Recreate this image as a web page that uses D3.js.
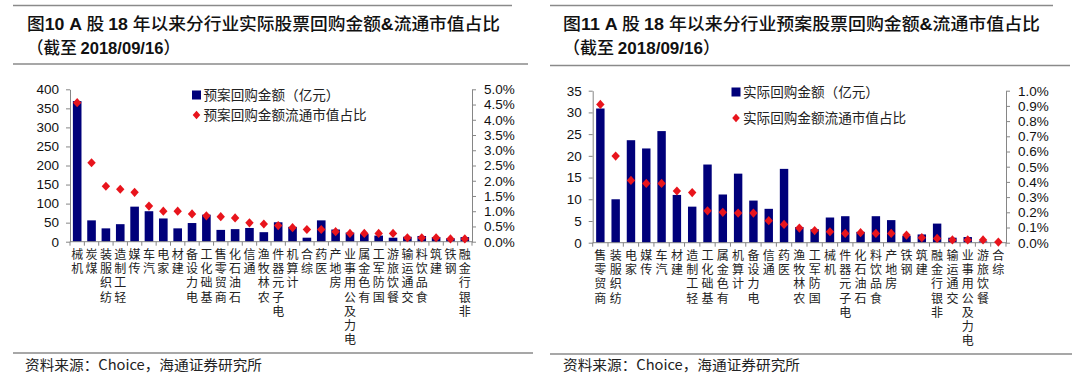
<!DOCTYPE html>
<html><head><meta charset="utf-8">
<script src="https://cdn.jsdelivr.net/npm/d3@7"></script>
<style>
html,body{margin:0;padding:0;background:#fff;}
svg{display:block;}
.vlab{writing-mode:vertical-rl;text-orientation:upright;}
</style></head>
<body>
<svg id="c" width="1080" height="390"></svg>
<script>
// ---------- DATA ----------
const leftCategories = ["机械","煤炭","纺织服装","轻工制造","传媒","汽车","家电","建材","电力设备","基础化工","商贸零售","石油石化","通信","农林牧渔","电子元器件","计算机","综合","医药","房地产","电力及公用事业","有色金属","国防军工","餐饮旅游","交通运输","食品饮料","建筑","钢铁","非银行金融"];
const leftAmount = [369,56,35,46,92,80,61,35,49,71,31,33,36,25,51,39,10.5,56,32,24,20,16,10.5,13,15,12,9,12];
const leftRatio = [4.56,2.59,1.82,1.72,1.62,1.17,1.00,1.00,0.91,0.85,0.82,0.78,0.62,0.58,0.53,0.46,0.40,0.40,0.33,0.27,0.27,0.27,0.27,0.13,0.13,0.13,0.09,0.09];
const leftAmountTicks = [0,50,100,150,200,250,300,350,400];
const leftRatioTicks = [0,0.5,1.0,1.5,2.0,2.5,3.0,3.5,4.0,4.5,5.0];

const rightCategories = ["商贸零售","纺织服装","家电","传媒","汽车","建材","轻工制造","基础化工","有色金属","计算机","电力设备","通信","医药","农林牧渔","国防军工","机械","电子元器件","石油石化","食品饮料","房地产","钢铁","建筑","非银行金融","交通运输","电力及公用事业","餐饮旅游","综合"];
const rightAmount = [30.9,10.0,23.6,21.7,25.7,11.0,8.3,18.0,11.1,15.9,9.7,7.8,17.0,3.6,3.1,5.8,6.1,2.5,6.1,5.2,1.6,1.9,4.4,1.15,1.3,0.3,0.1];
const rightRatio = [0.91,0.57,0.41,0.39,0.39,0.34,0.33,0.21,0.20,0.195,0.195,0.145,0.12,0.096,0.08,0.072,0.061,0.066,0.061,0.061,0.05,0.033,0.028,0.018,0.018,0.018,0.004];
const rightAmountTicks = [0,5,10,15,20,25,30,35];
const rightRatioTicks = [0,0.1,0.2,0.3,0.4,0.5,0.6,0.7,0.8,0.9,1.0];

const leftTitle1 = [["图",0],["10 A ",1],["股 ",0],["18 ",1],["年以来分行业实际股票回购金额",0],["&",1],["流通市值占比",0]];
const rightTitle1 = [["图",0],["11 A ",1],["股 ",0],["18 ",1],["年以来分行业预案股票回购金额",0],["&",1],["流通市值占比",0]];
const title2 = [["（截至 ",0],["2018/09/16",1],["）",0]];
const leftLegend = ["预案回购金额（亿元）","预案回购金额流通市值占比"];
const rightLegend = ["实际回购金额（亿元）","实际回购金额流通市值占比"];
const sourceText = "资料来源：Choice，海通证券研究所";

// ---------- STYLE ----------
const BAR = "#00007A", RED = "#E8141C", AXIS = "#868686", RULE = "#8a8a8a";
const CJK = "'Noto Sans CJK SC','Noto Sans',sans-serif";
const LAT = "'Liberation Sans',Arial,sans-serif";

const svg = d3.select("#c");

function panel(o){
  const g = svg.append("g");
  // rules
  g.append("line").attr("x1",o.r0).attr("x2",o.rTop).attr("y1",5.5).attr("y2",5.5).attr("stroke",RULE).attr("stroke-width",1.5);
  g.append("line").attr("x1",o.r0).attr("x2",o.rMid).attr("y1",o.midY).attr("y2",o.midY).attr("stroke",RULE).attr("stroke-width",1.5);
  g.append("line").attr("x1",o.r0).attr("x2",o.rBot).attr("y1",o.botY).attr("y2",o.botY).attr("stroke",RULE).attr("stroke-width",1.5);

  // titles
  const t1 = g.append("text").attr("x",o.tx).attr("y",29.5).attr("font-size",17).attr("fill","#111")
     .attr("textLength",o.t1len).attr("lengthAdjust","spacingAndGlyphs");
  o.title1.forEach(([s,b])=>t1.append("tspan").text(s).attr("font-family",b?LAT:CJK).attr("font-weight",b?700:500));
  const t2 = g.append("text").attr("x",o.tx).attr("y",53.5).attr("font-size",17).attr("fill","#111")
     .attr("textLength",o.t2len).attr("lengthAdjust","spacingAndGlyphs");
  title2.forEach(([s,b])=>t2.append("tspan").text(s).attr("font-family",b?LAT:CJK).attr("font-weight",b?700:500));

  // source
  g.append("text").attr("x",o.sx).attr("y",370).attr("font-size",14).attr("font-family",CJK).attr("fill","#222")
    .attr("textLength",237).attr("lengthAdjust","spacingAndGlyphs").text(sourceText);

  // scales
  const x = d3.scaleBand().domain(o.cats).range([o.x0,o.x1]).padding(0);
  const yA = d3.scaleLinear().domain([0,d3.max(o.aTicks)]).range([o.y0,o.yTop]);
  const yR = d3.scaleLinear().domain([0,d3.max(o.rTicks)]).range([o.y0,o.yTop]);
  const bw = x.bandwidth()*o.barFrac;

  // bars
  g.append("g").selectAll("rect").data(o.cats).join("rect")
    .attr("x",d=>x(d)+(x.bandwidth()-bw)/2).attr("width",bw)
    .attr("y",(d,i)=>yA(o.amount[i])).attr("height",(d,i)=>yA(0)-yA(o.amount[i]))
    .attr("fill",BAR);

  // axes
  const axL = g.append("g").attr("transform",`translate(${o.x0},0)`)
    .call(d3.axisLeft(yA).tickValues(o.aTicks).tickSize(4).tickPadding(7).tickSizeOuter(0));
  const axR = g.append("g").attr("transform",`translate(${o.x1},0)`)
    .call(d3.axisRight(yR).tickValues(o.rTicks).tickSize(4).tickPadding(8).tickSizeOuter(0).tickFormat(d=>d.toFixed(1)+"%"));
  [axL,axR].forEach(a=>{
    a.select(".domain").attr("stroke",AXIS);
    a.selectAll(".tick line").attr("stroke",AXIS);
    a.selectAll(".tick text").attr("font-family",LAT).attr("font-size",13.5).attr("fill","#111");
  });
  // x axis
  const xa = g.append("g");
  xa.append("line").attr("x1",o.x0).attr("x2",o.x1).attr("y1",yA(0)).attr("y2",yA(0)).attr("stroke",AXIS);
  const bounds = o.cats.map(d=>x(d)).concat([o.x1]);
  xa.selectAll("line.t").data(bounds).join("line").attr("class","t")
    .attr("x1",d=>d).attr("x2",d=>d).attr("y1",yA(0)).attr("y2",yA(0)+4).attr("stroke",AXIS);

  // diamonds
  g.append("g").selectAll("path").data(o.cats).join("path")
    .attr("transform",(d,i)=>`translate(${x(d)+x.bandwidth()/2},${yR(o.ratio[i])})`)
    .attr("d","M0,-4.6L4.2,0L0,4.6L-4.2,0Z").attr("fill",RED);

  // category labels: upright characters, read bottom-to-top, top-aligned to axis
  const lab = g.append("g").attr("font-family",CJK).attr("font-size",12).attr("fill","#222");
  lab.selectAll("text").data(o.cats).join("text").attr("class","vlab")
    .attr("x",d=>x(d)+x.bandwidth()/2).attr("y",yA(0)+o.labTop)
    .attr("letter-spacing",2.1)
    .text(d=>Array.from(d).reverse().join(""));

  // legend
  const lg = g.append("g").attr("font-family",CJK).attr("font-size",13.6).attr("fill","#222");
  lg.append("rect").attr("x",o.lgx).attr("y",o.lgy-4.5).attr("width",9).attr("height",9).attr("fill",BAR);
  lg.append("text").attr("x",o.lgx+11.5).attr("y",o.lgy+5).text(o.legend[0]);
  lg.append("path").attr("transform",`translate(${o.lgx+4.5},${o.lgy+o.lgGap})`).attr("d","M0,-4.2L3.8,0L0,4.2L-3.8,0Z").attr("fill",RED);
  lg.append("text").attr("x",o.lgx+11.5).attr("y",o.lgy+o.lgGap+5).text(o.legend[1]);
}

panel({cats:leftCategories, amount:leftAmount, ratio:leftRatio, aTicks:leftAmountTicks, rTicks:leftRatioTicks,
  x0:70, x1:472, y0:241.7, yTop:89.3, barFrac:0.6, labTop:7,
  r0:13, rTop:512, rMid:528, rBot:533, midY:64, botY:353,
  tx:27, t1len:473, t2len:153, sx:25, title1:leftTitle1,
  lgx:192, lgy:95, lgGap:20, legend:leftLegend});

panel({cats:rightCategories, amount:rightAmount, ratio:rightRatio, aTicks:rightAmountTicks, rTicks:rightRatioTicks,
  x0:592.7, x1:1006, y0:242.7, yTop:90.7, barFrac:0.55, labTop:7,
  r0:550, rTop:1053, rMid:1070, rBot:1072, midY:65.5, botY:354,
  tx:563, t1len:477, t2len:157, sx:563, title1:rightTitle1,
  lgx:731.5, lgy:92, lgGap:26, legend:rightLegend});
</script>
</body></html>
